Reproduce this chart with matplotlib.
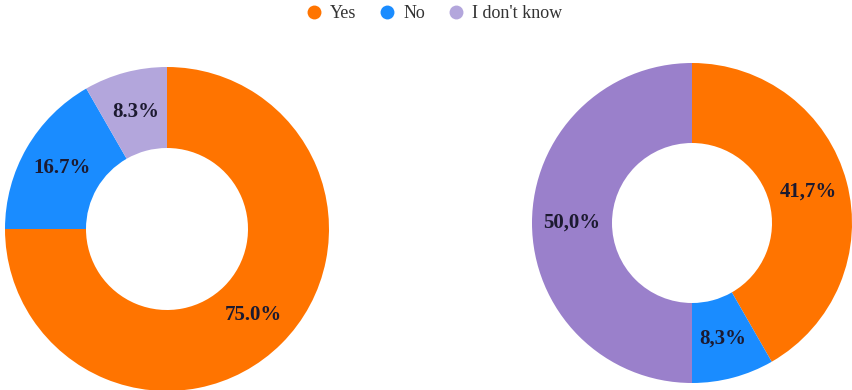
import numpy as np
import matplotlib.pyplot as plt
from matplotlib.lines import Line2D

categories = ["Yes", "No", "I don't know"]
left_values = [75.0, 16.7, 8.3]
right_values = [41.7, 8.3, 50.0]
left_labels = ["75.0%", "16.7%", "8.3%"]
right_labels = ["41,7%", "8,3%", "50,0%"]

left_colors = ["#ff7400", "#1a8cff", "#b3a6dc"]
right_colors = ["#ff7400", "#1a8cff", "#9a80cb"]

plt.rcParams['font.family'] = ['Liberation Serif', 'DejaVu Serif']

fig = plt.figure(figsize=(8.52, 3.9), dpi=100)
W, H = 852, 390


def donut(cx, cy, r, values, labels, colors):
    ax = fig.add_axes([(cx - r) / W, (H - cy - r) / H, 2 * r / W, 2 * r / H])
    ax.pie(values, colors=colors, startangle=90, counterclock=False,
           radius=1, wedgeprops=dict(width=0.5, edgecolor='none'))
    # labels sit in the middle of the ring
    total = sum(values)
    start = 90
    for v, lab in zip(values, labels):
        mid = start - 360 * v / total / 2
        start -= 360 * v / total
        ax.text(0.75 * np.cos(np.radians(mid)), 0.75 * np.sin(np.radians(mid)), lab,
                ha='center', va='center', fontsize=15, fontweight='bold', color='#1c1a30')
    ax.set_xlim(-1, 1)
    ax.set_ylim(-1, 1)
    ax.set_aspect('equal')
    ax.axis('off')


donut(167, 229, 162, left_values, left_labels, left_colors)
donut(692, 223, 160, right_values, right_labels, right_colors)

handles = [Line2D([], [], marker='o', linestyle='none', markersize=10,
                  markerfacecolor=c, markeredgecolor='none') for c in left_colors]
fig.legend(handles, categories, loc='center', bbox_to_anchor=(0.51, 0.965),
           ncol=3, frameon=False, fontsize=13, handlelength=0.8, handletextpad=0.5,
           columnspacing=1.3, labelcolor='#333333')

fig.savefig('out.png', dpi=100)
